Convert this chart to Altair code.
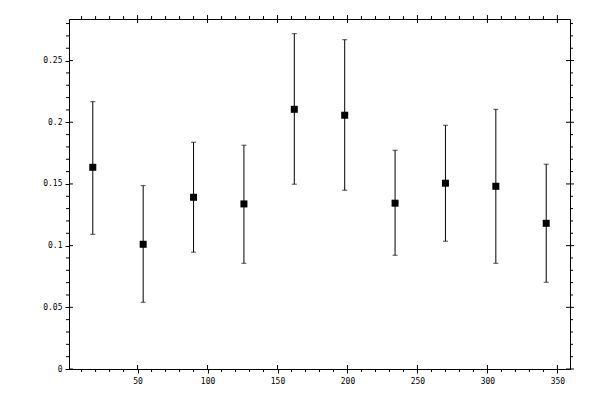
import altair as alt
import pandas as pd

# data
x_vals = [18, 54, 90, 126, 162, 198, 234, 270, 306, 342]
y_vals = [0.1635, 0.1011, 0.1392, 0.1338, 0.2105, 0.2057, 0.1344, 0.1506, 0.1481, 0.1181]
y_hi = [0.2167, 0.1486, 0.1838, 0.1814, 0.2718, 0.2669, 0.1773, 0.1976, 0.2105, 0.1660]
y_lo = [0.1092, 0.0541, 0.0947, 0.0857, 0.1498, 0.1449, 0.0922, 0.1036, 0.0857, 0.0703]

x_major = [50, 100, 150, 200, 250, 300, 350]
x_minor = [10, 20, 30, 40, 60, 70, 80, 90, 110, 120, 130, 140, 160, 170, 180, 190,
           210, 220, 230, 240, 260, 270, 280, 290, 310, 320, 330, 340]
y_major = [0, 0.05, 0.1, 0.15, 0.2, 0.25]
y_minor = [0.01, 0.02, 0.03, 0.04, 0.06, 0.07, 0.08, 0.09, 0.11, 0.12, 0.13, 0.14,
           0.16, 0.17, 0.18, 0.19, 0.21, 0.22, 0.23, 0.24, 0.26, 0.27, 0.28]

x_domain = [1, 359]
y_domain = [0, 0.2837]

W, H = 501, 350

df = pd.DataFrame({"x": x_vals, "y": y_vals, "hi": y_hi, "lo": y_lo})
xs = alt.Scale(domain=x_domain, nice=False, zero=False)
ys = alt.Scale(domain=y_domain, nice=False, zero=False)

x_axis = alt.Axis(values=x_major, tickSize=4, labelPadding=4, grid=False, title=None)
y_axis = alt.Axis(values=y_major, tickSize=4, labelPadding=3, grid=False, title=None, format="~g")


def X(f):
    return alt.X(f, scale=xs, axis=x_axis)


def Y(f):
    return alt.Y(f, scale=ys, axis=y_axis)


bars = alt.Chart(df).mark_rule(color="black", strokeWidth=1).encode(
    x=X("x:Q"), y=Y("lo:Q"), y2="hi:Q",
)
cap_hi = alt.Chart(df).mark_tick(color="black", orient="horizontal", size=5, thickness=1).encode(
    x=X("x:Q"), y=Y("hi:Q")
)
cap_lo = alt.Chart(df).mark_tick(color="black", orient="horizontal", size=5, thickness=1).encode(
    x=X("x:Q"), y=Y("lo:Q")
)
pts = alt.Chart(df).mark_square(color="black", opacity=1, size=49).encode(
    x=X("x:Q"), y=Y("y:Q")
)

dxmaj = pd.DataFrame({"x": x_major})
dxmin = pd.DataFrame({"x": x_minor})
dymaj = pd.DataFrame({"y": y_major})
dymin = pd.DataFrame({"y": y_minor})


def xt(data, a, b):
    return alt.Chart(data).mark_rule(color="black").encode(
        x=X("x:Q"), y=alt.value(a), y2=alt.value(b)
    )


def yt(data, a, b):
    return alt.Chart(data).mark_rule(color="black").encode(
        y=Y("y:Q"), x=alt.value(a), x2=alt.value(b)
    )


ticks = [
    xt(dxmin, H, H + 3), xt(dxmaj, H - 4, H),
    xt(dxmin, 0, -3), xt(dxmaj, -4, 4),
    yt(dymin, 0, -3), yt(dymaj, 0, 4),
    yt(dymin, W, W + 3), yt(dymaj, W - 4, W + 4),
]

chart = alt.layer(bars, cap_hi, cap_lo, pts, *ticks).properties(
    width=W, height=H,
    autosize=alt.AutoSizeParams(type="none"),
    padding={"left": 61, "top": 11, "right": 20, "bottom": 20},
).configure_view(
    stroke="black", strokeWidth=1
).configure_axis(
    labelFont="DejaVu Sans Mono", labelFontSize=8, labelColor="black",
    domainColor="black", tickColor="black", domainWidth=1, tickWidth=1,
)

chart.save("out.html", embed_options={"renderer": "svg", "actions": False})
